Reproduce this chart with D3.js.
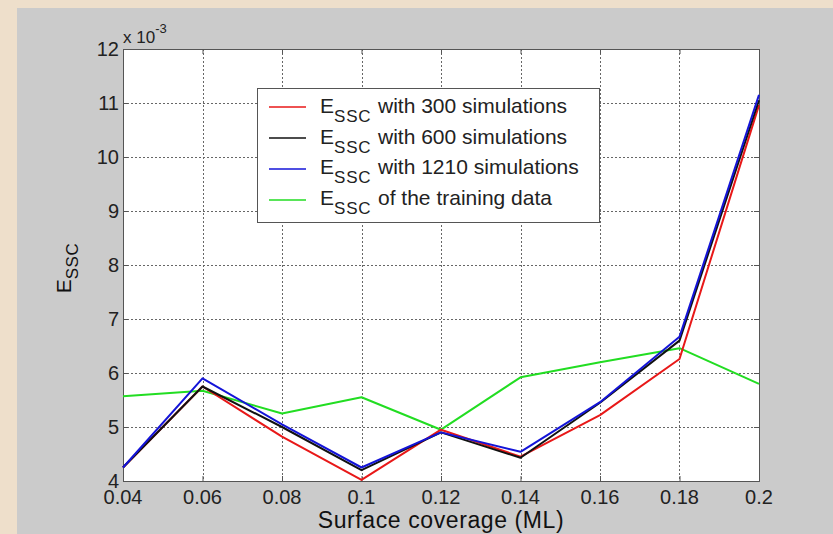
<!DOCTYPE html>
<html>
<head>
<meta charset="utf-8">
<script src="https://cdn.jsdelivr.net/npm/d3@7/dist/d3.min.js"></script>
<style>
  html, body { margin: 0; padding: 0; background: #eedfcb; }
  svg { display: block; font-family: "Liberation Sans", Arial, sans-serif; }
</style>
</head>
<body>
<svg id="chart" width="833" height="534"></svg>
<script>
// Surface coverage (ML) sampled on the x axis
const coverage = [0.04, 0.06, 0.08, 0.10, 0.12, 0.14, 0.16, 0.18, 0.20];

// E_SSC values (x 10^-3)
const essc300  = [4.25, 5.75, 4.82, 4.02, 4.95, 4.45, 5.22, 6.26, 10.96];
const essc600  = [4.25, 5.75, 5.00, 4.20, 4.90, 4.43, 5.45, 6.60, 11.05];
const essc1210 = [4.25, 5.90, 5.05, 4.25, 4.90, 4.54, 5.46, 6.67, 11.15];
const esscTrain = [5.57, 5.67, 5.25, 5.55, 4.95, 5.92, 6.20, 6.46, 5.80];

const xTicks = [0.04, 0.06, 0.08, 0.1, 0.12, 0.14, 0.16, 0.18, 0.2];
const xTickLabels = ["0.04", "0.06", "0.08", "0.1", "0.12", "0.14", "0.16", "0.18", "0.2"];
const yTicks = [4, 5, 6, 7, 8, 9, 10, 11, 12];

const seriesNames = ["with 300 simulations", "with 600 simulations", "with 1210 simulations", "of the training data"];
const seriesColors = ["#e81818", "#111111", "#1414d8", "#22dd22"];
const seriesValues = [essc300, essc600, essc1210, esscTrain];

const svg = d3.select("#chart");
const W = 833, H = 534;

// figure panel
svg.append("rect").attr("x", 17).attr("y", 8).attr("width", W - 17).attr("height", H - 8)
  .attr("fill", "#cbcbcb");

const plot = { left: 123, top: 49, right: 759, bottom: 481 };

const x = d3.scaleLinear().domain([0.04, 0.2]).range([plot.left, plot.right]);
const y = d3.scaleLinear().domain([4, 12]).range([plot.bottom, plot.top]);

svg.append("rect").attr("x", plot.left).attr("y", plot.top)
  .attr("width", plot.right - plot.left).attr("height", plot.bottom - plot.top)
  .attr("fill", "#ffffff");

// dotted grid
const grid = svg.append("g").attr("stroke", "#666").attr("stroke-width", 1)
  .attr("stroke-dasharray", "1.5,2.5").attr("shape-rendering", "crispEdges");
grid.selectAll("line.gx").data(xTicks.slice(1, -1)).join("line")
  .attr("x1", d => Math.round(x(d)) + 0.5).attr("x2", d => Math.round(x(d)) + 0.5)
  .attr("y1", plot.top).attr("y2", plot.bottom);
grid.selectAll("line.gy").data(yTicks.slice(1, -1)).join("line")
  .attr("y1", d => Math.round(y(d)) + 0.5).attr("y2", d => Math.round(y(d)) + 0.5)
  .attr("x1", plot.left).attr("x2", plot.right);

// axes with inward ticks
const xAxisBottom = d3.axisBottom(x).tickValues(xTicks).tickSize(-5).tickFormat("");
const xAxisTop = d3.axisTop(x).tickValues(xTicks).tickSize(-5).tickFormat("");
const yAxisLeft = d3.axisLeft(y).tickValues(yTicks).tickSize(-5).tickFormat("");
const yAxisRight = d3.axisRight(y).tickValues(yTicks).tickSize(-5).tickFormat("");

function styleAxis(g) {
  g.selectAll("path").attr("stroke", "#555").attr("stroke-width", 1);
  g.selectAll("line").attr("stroke", "#555");
}
svg.append("g").attr("transform", `translate(0,${plot.bottom})`).call(xAxisBottom).call(styleAxis);
svg.append("g").attr("transform", `translate(0,${plot.top})`).call(xAxisTop).call(styleAxis);
svg.append("g").attr("transform", `translate(${plot.left},0)`).call(yAxisLeft).call(styleAxis);
svg.append("g").attr("transform", `translate(${plot.right},0)`).call(yAxisRight).call(styleAxis);

// tick labels
svg.append("g").selectAll("text").data(xTicks).join("text")
  .attr("x", d => x(d)).attr("y", plot.bottom + 23)
  .attr("text-anchor", "middle").attr("font-size", 20).attr("fill", "#222")
  .text((d, i) => xTickLabels[i]);
svg.append("g").selectAll("text").data(yTicks).join("text")
  .attr("x", plot.left - 4).attr("y", d => y(d) + 7)
  .attr("text-anchor", "end").attr("font-size", 20).attr("fill", "#222")
  .text(d => d);

// exponent label
const mult = svg.append("text").attr("x", 123).attr("y", 43)
  .attr("font-size", 17).attr("fill", "#222");
mult.append("tspan").text("x 10");
mult.append("tspan").attr("dy", -10).attr("font-size", 13).text("-3");

// axis titles
svg.append("text").attr("x", (plot.left + plot.right) / 2).attr("y", 528)
  .attr("text-anchor", "middle").attr("font-size", 23).attr("letter-spacing", 0.6)
  .attr("fill", "#111").text("Surface coverage (ML)");

const yt = svg.append("text").attr("transform", "translate(71,268) rotate(-90)")
  .attr("text-anchor", "middle").attr("font-size", 21).attr("fill", "#111");
yt.append("tspan").text("E");
yt.append("tspan").attr("dy", 7).attr("font-size", 17).attr("letter-spacing", 0.5).text("SSC");

// series lines
const line = d3.line().x((d, i) => x(coverage[i])).y(d => y(d));
const order = [3, 0, 1, 2];
order.forEach(k => {
  svg.append("path").datum(seriesValues[k])
    .attr("d", line).attr("fill", "none")
    .attr("stroke", seriesColors[k]).attr("stroke-width", 2)
    .attr("stroke-linejoin", "round");
});

// legend
const leg = svg.append("g");
leg.append("rect").attr("x", 257.5).attr("y", 88.5).attr("width", 342).attr("height", 134)
  .attr("fill", "#fff").attr("stroke", "#555").attr("stroke-width", 1);
seriesNames.forEach((name, i) => {
  const base = 113 + i * 30.5;
  const cy = base - 6 + i * 0.5;
  leg.append("line").attr("x1", 269).attr("x2", 306).attr("y1", cy).attr("y2", cy)
    .attr("stroke", seriesColors[i]).attr("stroke-width", 1.5);
  const t = leg.append("text").attr("x", 320).attr("y", base)
    .attr("font-size", 21).attr("fill", "#222");
  t.append("tspan").text("E");
  t.append("tspan").attr("dy", 9).attr("font-size", 17).attr("letter-spacing", 0.8).text("SSC");
  leg.append("text").attr("x", 378).attr("y", base)
    .attr("font-size", 21).attr("fill", "#222").text(name);
});
</script>
</body>
</html>
